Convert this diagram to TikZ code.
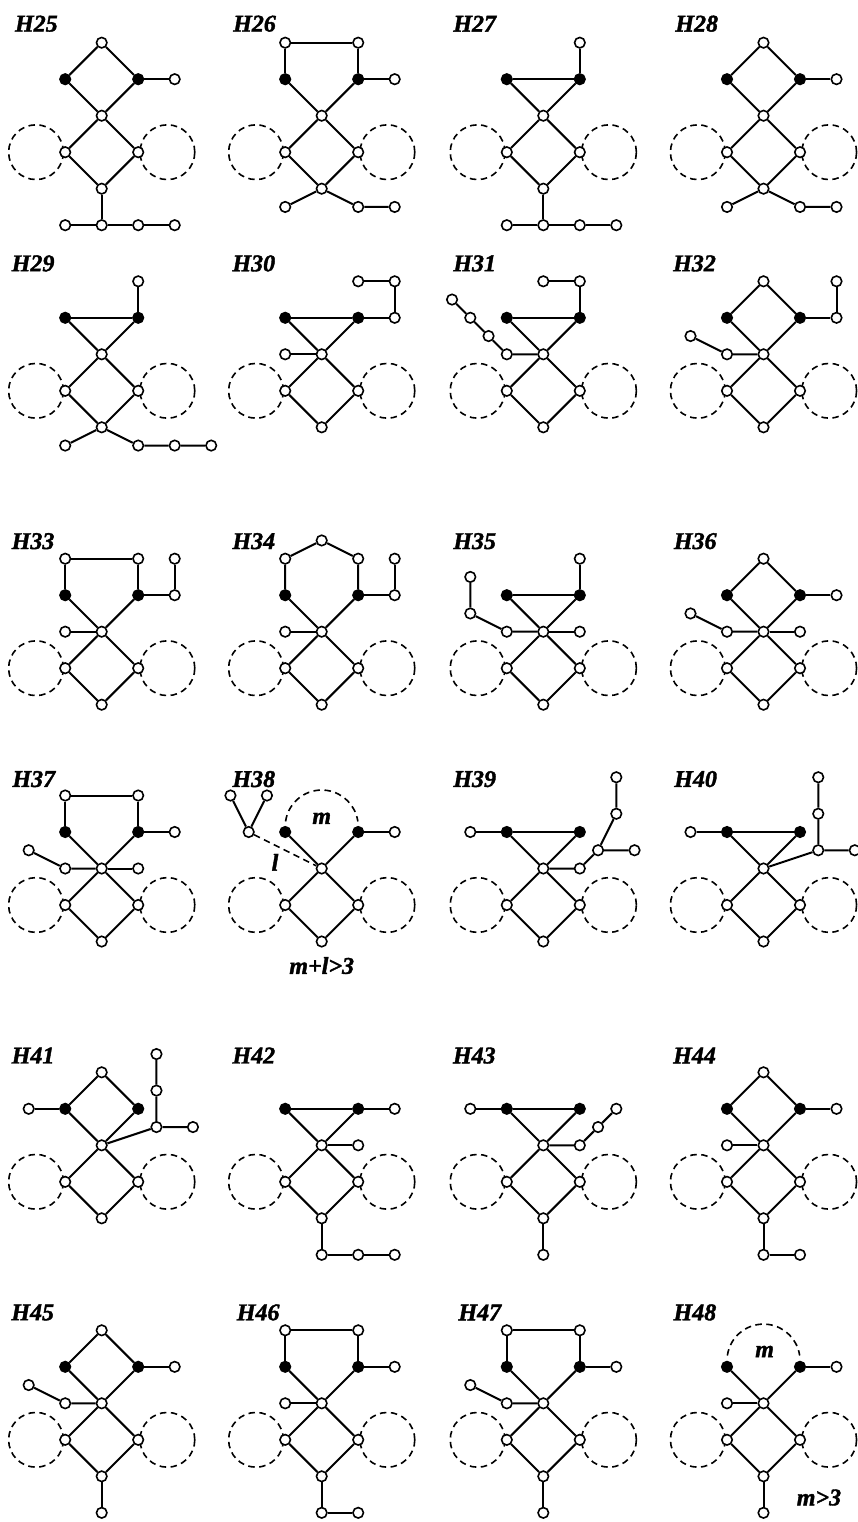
\documentclass[tikz,border=0pt]{standalone}
\usepackage{fontspec}
\setmainfont{Liberation Serif}
\newfontfamily\labfont[FakeBold=1.6]{Liberation Serif Bold Italic}
\tikzset{
 wn/.style={circle, draw, fill=white, line width=1.6pt, minimum size=10.5pt, inner sep=0pt},
 bn/.style={circle, draw, fill=black, line width=1.6pt, minimum size=10.5pt, inner sep=0pt},
 ln/.style={line width=2pt},
 dcirc/.style={line width=1.6pt, dash pattern=on 6.5pt off 4.5pt},
 lab/.style={font=\fontsize{24}{28}\labfont, inner sep=0pt},
 gr/.style={x=36.5pt, y=36.5pt},
}
\newcommand\basegr[1]{%
 \draw[dcirc] (-1.8,-1) circle[radius=0.75];
 \draw[dcirc] (1.8,-1) circle[radius=0.75];
 \node[wn] (#1c) at (0,0) {};
 \node[bn] (#1bl) at (-1,1) {};
 \node[bn] (#1br) at (1,1) {};
 \node[wn] (#1sl) at (-1,-1) {};
 \node[wn] (#1sr) at (1,-1) {};
 \node[wn] (#1b) at (0,-2) {};
 \draw[ln] (#1bl)--(#1c)--(#1br) (#1c)--(#1sl)--(#1b)--(#1sr)--(#1c);
}
\newcommand\topdia[1]{\node[wn] (#1t) at (0,2) {}; \draw[ln] (#1bl)--(#1t)--(#1br);}
\newcommand\toprect[1]{\node[wn] (#1tl) at (-1,2) {}; \node[wn] (#1tr) at (1,2) {}; \draw[ln] (#1bl)--(#1tl)--(#1tr)--(#1br);}
\newcommand\trigr[1]{\draw[ln] (#1bl)--(#1br);}
\newcommand\brpend[1]{\node[wn] (#1p) at (2,1) {}; \draw[ln] (#1br)--(#1p);}
\newcommand\glab[4]{\node[lab, anchor=west] (#1lab) at (#3,#4) {#2};}
\begin{document}
\begin{tikzpicture}[x=1pt,y=1pt]
\useasboundingbox (0,0) rectangle (858,-1522);
\fill[white] (0,0) rectangle (858,-1522);
% ---------- row 1
\begin{scope}[shift={(101.7,-115.7)},gr]
\glab{g25}{H25}{-2.38}{2.52}
\basegr{g25}\topdia{g25}\brpend{g25}
\node[wn] (g25b0) at (-1,-3) {}; \node[wn] (g25b1) at (0,-3) {};
\node[wn] (g25b2) at (1,-3) {}; \node[wn] (g25b3) at (2,-3) {};
\draw[ln] (g25b)--(g25b1) (g25b0)--(g25b1)--(g25b2)--(g25b3);
\end{scope}
\begin{scope}[shift={(321.7,-115.7)},gr]
\glab{g26}{H26}{-2.43}{2.52}
\basegr{g26}\toprect{g26}\brpend{g26}
\node[wn] (g26q1) at (-1,-2.5) {}; \node[wn] (g26q2) at (1,-2.5) {}; \node[wn] (g26q3) at (2,-2.5) {};
\draw[ln] (g26b)--(g26q1) (g26b)--(g26q2)--(g26q3);
\end{scope}
\begin{scope}[shift={(543.3,-115.7)},gr]
\glab{g27}{H27}{-2.47}{2.52}
\basegr{g27}\trigr{g27}
\node[wn] (g27u) at (1,2) {}; \draw[ln] (g27br)--(g27u);
\node[wn] (g27b0) at (-1,-3) {}; \node[wn] (g27b1) at (0,-3) {};
\node[wn] (g27b2) at (1,-3) {}; \node[wn] (g27b3) at (2,-3) {};
\draw[ln] (g27b)--(g27b1) (g27b0)--(g27b1)--(g27b2)--(g27b3);
\end{scope}
\begin{scope}[shift={(763.5,-115.7)},gr]
\glab{g28}{H28}{-2.42}{2.52}
\basegr{g28}\topdia{g28}\brpend{g28}
\node[wn] (g28q1) at (-1,-2.5) {}; \node[wn] (g28q2) at (1,-2.5) {}; \node[wn] (g28q3) at (2,-2.5) {};
\draw[ln] (g28b)--(g28q1) (g28b)--(g28q2)--(g28q3);
\end{scope}
% ---------- row 2
\begin{scope}[shift={(101.7,-354.3)},gr]
\glab{g29}{H29}{-2.47}{2.49}
\basegr{g29}\trigr{g29}
\node[wn] (g29u) at (1,2) {}; \draw[ln] (g29br)--(g29u);
\node[wn] (g29q1) at (-1,-2.5) {}; \node[wn] (g29q2) at (1,-2.5) {};
\node[wn] (g29q3) at (2,-2.5) {}; \node[wn] (g29q4) at (3,-2.5) {};
\draw[ln] (g29b)--(g29q1) (g29b)--(g29q2)--(g29q3)--(g29q4);
\end{scope}
\begin{scope}[shift={(321.7,-354.3)},gr]
\glab{g30}{H30}{-2.45}{2.49}
\basegr{g30}\trigr{g30}\brpend{g30}
\node[wn] (g30p2) at (2,2) {}; \node[wn] (g30p3) at (1,2) {};
\draw[ln] (g30p)--(g30p2)--(g30p3);
\node[wn] (g30lp) at (-1,0) {}; \draw[ln] (g30lp)--(g30c);
\end{scope}
\begin{scope}[shift={(543.3,-354.3)},gr]
\glab{g31}{H31}{-2.47}{2.49}
\basegr{g31}\trigr{g31}
\node[wn] (g31u) at (1,2) {}; \node[wn] (g31u2) at (0,2) {};
\draw[ln] (g31br)--(g31u)--(g31u2);
\node[wn] (g31l1) at (-1,0) {}; \node[wn] (g31l2) at (-1.5,0.5) {};
\node[wn] (g31l3) at (-2,1) {}; \node[wn] (g31l4) at (-2.5,1.5) {};
\draw[ln] (g31c)--(g31l1)--(g31l2)--(g31l3)--(g31l4);
\end{scope}
\begin{scope}[shift={(763.5,-354.3)},gr]
\glab{g32}{H32}{-2.48}{2.49}
\basegr{g32}\topdia{g32}\brpend{g32}
\node[wn] (g32p2) at (2,2) {}; \draw[ln] (g32p)--(g32p2);
\node[wn] (g32l1) at (-1,0) {}; \node[wn] (g32l2) at (-2,0.5) {};
\draw[ln] (g32c)--(g32l1)--(g32l2);
\end{scope}
% ---------- row 3
\begin{scope}[shift={(101.7,-631.7)},gr]
\glab{g33}{H33}{-2.47}{2.48}
\basegr{g33}\toprect{g33}\brpend{g33}
\node[wn] (g33p2) at (2,2) {}; \draw[ln] (g33p)--(g33p2);
\node[wn] (g33lp) at (-1,0) {}; \draw[ln] (g33lp)--(g33c);
\end{scope}
\begin{scope}[shift={(321.7,-631.7)},gr]
\glab{g34}{H34}{-2.45}{2.48}
\basegr{g34}\brpend{g34}
\node[wn] (g34tl) at (-1,2) {}; \node[wn] (g34tt) at (0,2.5) {}; \node[wn] (g34tr) at (1,2) {};
\draw[ln] (g34bl)--(g34tl)--(g34tt)--(g34tr)--(g34br);
\node[wn] (g34p2) at (2,2) {}; \draw[ln] (g34p)--(g34p2);
\node[wn] (g34lp) at (-1,0) {}; \draw[ln] (g34lp)--(g34c);
\end{scope}
\begin{scope}[shift={(543.3,-631.7)},gr]
\glab{g35}{H35}{-2.47}{2.48}
\basegr{g35}\trigr{g35}
\node[wn] (g35u) at (1,2) {}; \draw[ln] (g35br)--(g35u);
\node[wn] (g35l1) at (-1,0) {}; \node[wn] (g35l2) at (-2,0.5) {}; \node[wn] (g35l3) at (-2,1.5) {};
\draw[ln] (g35c)--(g35l1)--(g35l2)--(g35l3);
\node[wn] (g35rp) at (1,0) {}; \draw[ln] (g35c)--(g35rp);
\end{scope}
\begin{scope}[shift={(763.5,-631.7)},gr]
\glab{g36}{H36}{-2.46}{2.48}
\basegr{g36}\topdia{g36}\brpend{g36}
\node[wn] (g36l1) at (-1,0) {}; \node[wn] (g36l2) at (-2,0.5) {};
\draw[ln] (g36c)--(g36l1)--(g36l2);
\node[wn] (g36rp) at (1,0) {}; \draw[ln] (g36c)--(g36rp);
\end{scope}
% ---------- row 4
\begin{scope}[shift={(101.7,-868.5)},gr]
\glab{g37}{H37}{-2.45}{2.45}
\basegr{g37}\toprect{g37}\brpend{g37}
\node[wn] (g37l1) at (-1,0) {}; \node[wn] (g37l2) at (-2,0.5) {};
\draw[ln] (g37c)--(g37l1)--(g37l2);
\node[wn] (g37rp) at (1,0) {}; \draw[ln] (g37c)--(g37rp);
\end{scope}
\begin{scope}[shift={(321.7,-868.5)},gr]
\glab{g38}{H38}{-2.45}{2.45}
\draw[dcirc] (-0.99,1.289) arc[start angle=172, end angle=8, radius=1];
\basegr{g38}\brpend{g38}
\node[wn] (g38v) at (-2,1) {}; \node[wn] (g38v1) at (-2.5,2) {}; \node[wn] (g38v2) at (-1.5,2) {};
\draw[ln] (g38v1)--(g38v)--(g38v2);
\draw[dcirc] (g38v)--(g38c);
\node[lab] (g38m) at (0,1.375) {m};
\node[lab] (g38l) at (-1.28,0.17) {l};
\node[lab] (g38cond) at (0,-2.66) {m+l>3};
\end{scope}
\begin{scope}[shift={(543.3,-868.5)},gr]
\glab{g39}{H39}{-2.47}{2.45}
\basegr{g39}\trigr{g39}
\node[wn] (g39lb) at (-2,1) {}; \draw[ln] (g39lb)--(g39bl);
\node[wn] (g39r1) at (1,0) {}; \node[wn] (g39r2) at (1.5,0.5) {}; \node[wn] (g39r3) at (2.5,0.5) {};
\node[wn] (g39r4) at (2,1.5) {}; \node[wn] (g39r5) at (2,2.5) {};
\draw[ln] (g39c)--(g39r1)--(g39r2)--(g39r3) (g39r2)--(g39r4)--(g39r5);
\end{scope}
\begin{scope}[shift={(763.5,-868.5)},gr]
\glab{g40}{H40}{-2.45}{2.45}
\basegr{g40}\trigr{g40}
\node[wn] (g40lb) at (-2,1) {}; \draw[ln] (g40lb)--(g40bl);
\node[wn] (g40r2) at (1.5,0.5) {}; \node[wn] (g40r3) at (2.5,0.5) {};
\node[wn] (g40r4) at (1.5,1.5) {}; \node[wn] (g40r5) at (1.5,2.5) {};
\draw[ln] (g40c)--(g40r2)--(g40r3) (g40r2)--(g40r4)--(g40r5);
\end{scope}
% ---------- row 5
\begin{scope}[shift={(101.7,-1145.3)},gr]
\glab{g41}{H41}{-2.47}{2.46}
\basegr{g41}\topdia{g41}
\node[wn] (g41lb) at (-2,1) {}; \draw[ln] (g41lb)--(g41bl);
\node[wn] (g41r2) at (1.5,0.5) {}; \node[wn] (g41r3) at (2.5,0.5) {};
\node[wn] (g41r4) at (1.5,1.5) {}; \node[wn] (g41r5) at (1.5,2.5) {};
\draw[ln] (g41c)--(g41r2)--(g41r3) (g41r2)--(g41r4)--(g41r5);
\end{scope}
\begin{scope}[shift={(321.7,-1145.3)},gr]
\glab{g42}{H42}{-2.45}{2.46}
\basegr{g42}\trigr{g42}\brpend{g42}
\node[wn] (g42rp) at (1,0) {}; \draw[ln] (g42c)--(g42rp);
\node[wn] (g42d1) at (0,-3) {}; \node[wn] (g42d2) at (1,-3) {}; \node[wn] (g42d3) at (2,-3) {};
\draw[ln] (g42b)--(g42d1)--(g42d2)--(g42d3);
\end{scope}
\begin{scope}[shift={(543.3,-1145.3)},gr]
\glab{g43}{H43}{-2.48}{2.46}
\basegr{g43}\trigr{g43}
\node[wn] (g43lb) at (-2,1) {}; \draw[ln] (g43lb)--(g43bl);
\node[wn] (g43r1) at (1,0) {}; \node[wn] (g43r2) at (1.5,0.5) {}; \node[wn] (g43r3) at (2,1) {};
\draw[ln] (g43c)--(g43r1)--(g43r2)--(g43r3);
\node[wn] (g43d1) at (0,-3) {}; \draw[ln] (g43b)--(g43d1);
\end{scope}
\begin{scope}[shift={(763.5,-1145.3)},gr]
\glab{g44}{H44}{-2.48}{2.46}
\basegr{g44}\topdia{g44}\brpend{g44}
\node[wn] (g44lp) at (-1,0) {}; \draw[ln] (g44lp)--(g44c);
\node[wn] (g44d1) at (0,-3) {}; \node[wn] (g44d2) at (1,-3) {};
\draw[ln] (g44b)--(g44d1)--(g44d2);
\end{scope}
% ---------- row 6
\begin{scope}[shift={(101.7,-1403.3)},gr]
\glab{g45}{H45}{-2.48}{2.49}
\basegr{g45}\topdia{g45}\brpend{g45}
\node[wn] (g45l1) at (-1,0) {}; \node[wn] (g45l2) at (-2,0.5) {};
\draw[ln] (g45c)--(g45l1)--(g45l2);
\node[wn] (g45d1) at (0,-3) {}; \draw[ln] (g45b)--(g45d1);
\end{scope}
\begin{scope}[shift={(321.7,-1403.3)},gr]
\glab{g46}{H46}{-2.33}{2.49}
\basegr{g46}\toprect{g46}\brpend{g46}
\node[wn] (g46lp) at (-1,0) {}; \draw[ln] (g46lp)--(g46c);
\node[wn] (g46d1) at (0,-3) {}; \node[wn] (g46d2) at (1,-3) {};
\draw[ln] (g46b)--(g46d1)--(g46d2);
\end{scope}
\begin{scope}[shift={(543.3,-1403.3)},gr]
\glab{g47}{H47}{-2.33}{2.49}
\basegr{g47}\toprect{g47}\brpend{g47}
\node[wn] (g47l1) at (-1,0) {}; \node[wn] (g47l2) at (-2,0.5) {};
\draw[ln] (g47c)--(g47l1)--(g47l2);
\node[wn] (g47d1) at (0,-3) {}; \draw[ln] (g47b)--(g47d1);
\end{scope}
\begin{scope}[shift={(763.5,-1403.3)},gr]
\glab{g48}{H48}{-2.47}{2.49}
\draw[dcirc] (-0.99,1.309) arc[start angle=172, end angle=8, radius=1];
\basegr{g48}\brpend{g48}
\node[wn] (g48lp) at (-1,0) {}; \draw[ln] (g48lp)--(g48c);
\node[wn] (g48d1) at (0,-3) {}; \draw[ln] (g48b)--(g48d1);
\node[lab] (g48m) at (0.03,1.42) {m};
\node[lab] (g48cond) at (1.52,-2.58) {m>3};
\end{scope}
\end{tikzpicture}
\end{document}
